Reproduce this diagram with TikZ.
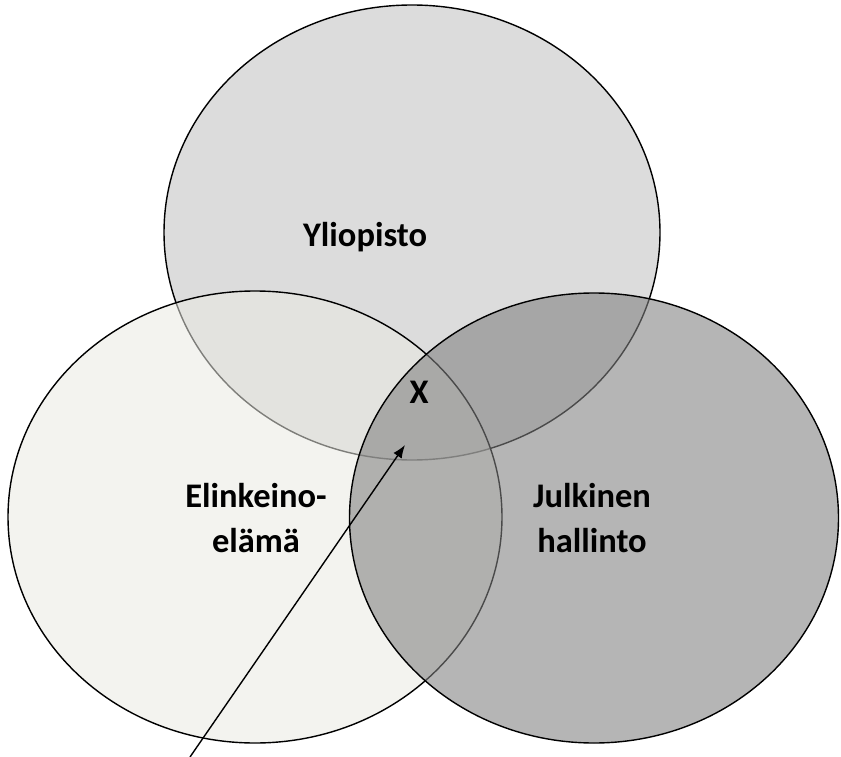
\documentclass[tikz,border=0pt]{standalone}
\usepackage{fontspec}
\setmainfont{Carlito}
\usetikzlibrary{shapes.geometric,arrows.meta}
\definecolor{topfill}{RGB}{220,220,220}
\definecolor{leftfill}{RGB}{233,233,226}
\definecolor{rightfill}{RGB}{128,128,128}
\tikzset{
  setshape/.style={ellipse, draw=black, line width=1.4pt, inner sep=0pt, outer sep=0pt},
  setlabel/.style={font=\fontsize{34.5}{45}\selectfont\bfseries, align=center, text=black},
  pointer/.style={line width=1.4pt, -{Latex[length=13pt,width=10pt]}}
}
\begin{document}
\begin{tikzpicture}[x=1pt,y=-1pt]
  \useasboundingbox (0,0) rectangle (841,757);
  % the three overlapping sets, later ones laid over earlier ones
  \node[setshape, fill=topfill, minimum width=496pt, minimum height=455pt] (uni) at (412,232.5) {};
  \node[setshape, fill=leftfill, fill opacity=0.54, minimum width=494pt, minimum height=452pt] (biz) at (255,517) {};
  \node[setshape, fill=rightfill, fill opacity=0.583, minimum width=489pt, minimum height=450pt] (gov) at (594,518) {};
  % labels
  \node[setlabel] (unilabel) at (365,237) {Yliopisto};
  \node[setlabel] (bizlabel) at (256,518) {Elinkeino-\\elämä};
  \node[setlabel] (govlabel) at (592,518) {Julkinen\\hallinto};
  \node[setlabel] (xlabel) at (419,392) {X};
  % pointer into the common area
  \coordinate (tail) at (190,757);
  \coordinate (tip) at (405,445);
  \draw[pointer] (tail) -- (tip);
\end{tikzpicture}
\end{document}
